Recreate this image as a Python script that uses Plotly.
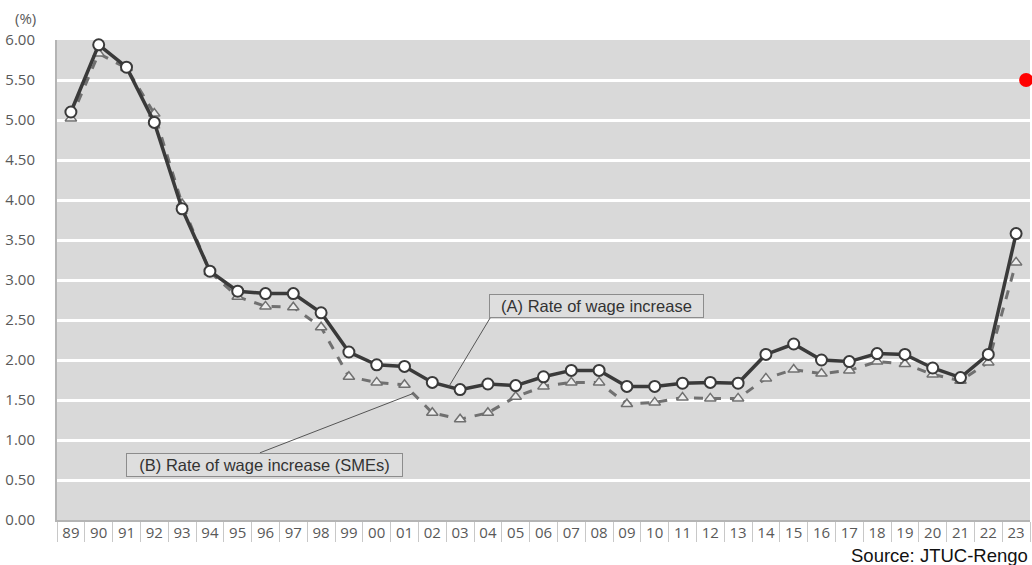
import plotly.graph_objects as go

years = ["89", "90", "91", "92", "93", "94", "95", "96", "97", "98", "99",
         "00", "01", "02", "03", "04", "05", "06", "07", "08", "09", "10",
         "11", "12", "13", "14", "15", "16", "17", "18", "19", "20", "21",
         "22", "23"]

rate_all = [5.10, 5.94, 5.66, 4.97, 3.89, 3.11, 2.86, 2.83, 2.83, 2.59, 2.10,
            1.94, 1.92, 1.72, 1.63, 1.70, 1.68, 1.79, 1.87, 1.87, 1.67, 1.67,
            1.71, 1.72, 1.71, 2.07, 2.20, 2.00, 1.98, 2.08, 2.07, 1.90, 1.78,
            2.07, 3.58]

rate_sme = [5.02, 5.83, 5.65, 5.08, 3.95, 3.10, 2.79, 2.67, 2.66, 2.41, 1.79,
            1.72, 1.69, 1.34, 1.26, 1.34, 1.54, 1.67, 1.72, 1.72, 1.45, 1.47,
            1.53, 1.52, 1.52, 1.77, 1.88, 1.83, 1.87, 1.98, 1.95, 1.82, 1.74,
            1.97, 3.22]

y_ticks = [0.0, 0.5, 1.0, 1.5, 2.0, 2.5, 3.0, 3.5, 4.0, 4.5, 5.0, 5.5, 6.0]

red_point_x = [34.36]
red_point_y = [5.50]

idx = list(range(len(years)))

fig = go.Figure()

fig.add_trace(go.Scatter(
    x=idx, y=rate_sme, mode="lines+markers", name="(B) Rate of wage increase (SMEs)",
    line=dict(color="#707070", width=3, dash="dash"),
    marker=dict(symbol="triangle-up", size=10, color="#ececec",
                line=dict(color="#707070", width=1.5)),
    cliponaxis=False,
))
fig.add_trace(go.Scatter(
    x=idx, y=rate_all, mode="lines+markers", name="(A) Rate of wage increase",
    line=dict(color="#3a3a3a", width=3.5),
    marker=dict(symbol="circle", size=11, color="white",
                line=dict(color="#3a3a3a", width=2)),
    cliponaxis=False,
))
fig.add_trace(go.Scatter(
    x=red_point_x, y=red_point_y, mode="markers",
    marker=dict(color="#ff0000", size=14), cliponaxis=False, showlegend=False,
))

font_axis = dict(family="Open Sans", size=15, color="#595959")

fig.update_layout(
    width=1032, height=565,
    margin=dict(l=57, r=2, t=40, b=45),
    paper_bgcolor="white",
    plot_bgcolor="#d9d9d9",
    showlegend=False,
    xaxis=dict(
        range=[-0.5, len(years) - 0.5],
        tickmode="array", tickvals=idx, ticktext=years,
        ticks="", showgrid=False, zeroline=False,
        showline=True, linecolor="#b4b4b4", linewidth=2,
        tickfont=font_axis,
        ticklabelstandoff=-2,
        minor=dict(tick0=-0.5, dtick=1, ticks="outside", ticklen=20,
                   tickcolor="#c8c8c8", tickwidth=1, showgrid=False),
    ),
    yaxis=dict(
        range=[0, 6], tickmode="array", tickvals=y_ticks, tickformat=".2f",
        ticks="", showgrid=True, gridcolor="white", gridwidth=3,
        zeroline=False, showline=True, linecolor="#b4b4b4", linewidth=2,
        tickfont=font_axis, ticklabelstandoff=17,
    ),
)

box_font = dict(family="Liberation Sans, Arial", size=16.5, color="#333333")

fig.add_annotation(x=18.9, y=2.67, xref="x", yref="y",
                   text="(A) Rate of wage increase", showarrow=False,
                   font=box_font, bgcolor="#dedede", bordercolor="#8c8c8c",
                   borderwidth=1, borderpad=2, width=209, align="center")
fig.add_annotation(x=6.96, y=0.69, xref="x", yref="y",
                   text="(B) Rate of wage increase (SMEs)", showarrow=False,
                   font=box_font, bgcolor="#dedede", bordercolor="#8c8c8c",
                   borderwidth=1, borderpad=2, width=271, align="center")

fig.add_shape(type="line", xref="x", yref="y", x0=13.6, y0=1.67, x1=15.08, y1=2.525,
              line=dict(color="#555555", width=1))
fig.add_shape(type="line", xref="x", yref="y", x0=12.3, y0=1.58, x1=6.8, y1=0.84,
              line=dict(color="#555555", width=1))

fig.add_annotation(x=-44/973, y=1 + 22/480, xref="paper", yref="paper", text="(%)",
                   showarrow=False, font=font_axis, xanchor="left", yanchor="middle")

fig.add_annotation(x=1, y=-35/480, xref="paper", yref="paper",
                   text="Source: JTUC-Rengo", showarrow=False,
                   font=dict(family="Liberation Sans, Arial", size=18.5, color="#111111"),
                   xanchor="right", yanchor="middle")

fig.write_html("out.html")
